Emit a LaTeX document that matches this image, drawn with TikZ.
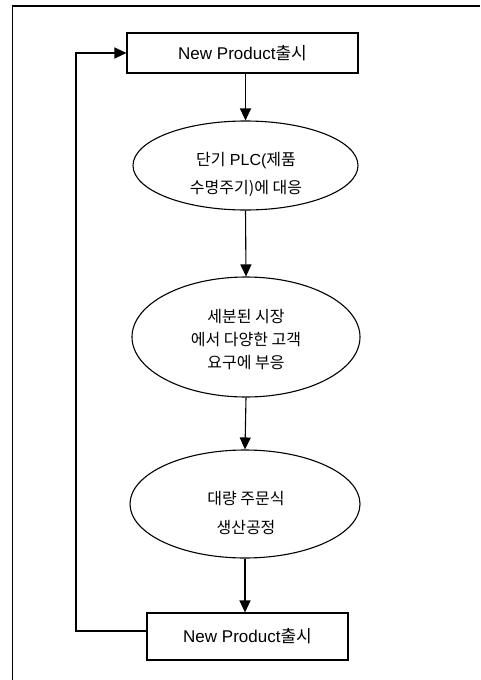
\documentclass[tikz,border=0pt]{standalone}
\usepackage{fontspec}
\setmainfont{Liberation Sans}
\newfontfamily\kr{Noto Sans CJK KR}
\usetikzlibrary{shapes.geometric,arrows.meta}
\begin{document}
\begin{tikzpicture}[x=1pt,y=-1pt,
  line width=1.1pt,
  boxnode/.style={draw,rectangle,inner sep=0pt,font=\fontsize{17}{20}\selectfont},
  ellnode/.style={draw,ellipse,inner sep=0pt},
  txt/.style={align=center,inner sep=0pt,font=\fontsize{16}{23}\selectfont},
  arr/.style={-{Triangle[length=12pt,width=11pt]}}]
\useasboundingbox (0,0) rectangle (480,680);
\draw[line width=1.4pt] (12.5,680) -- (12.5,6) -- (480,6);

\node[boxnode,minimum width=231pt,minimum height=40pt] (top) at (242.5,53) {New Product{\kr 출시}};
\node[ellnode,minimum width=225pt,minimum height=89pt] (e1) at (245.5,165.5) {};
\node[txt] (e1t) at (246,174) {{\kr 단기} PLC({\kr 제품}\\[5pt]{\kr 수명주기)에 대응}};
\node[ellnode,minimum width=228pt,minimum height=120pt] (e2) at (246,337) {};
\node[txt] (e2t) at (246,340) {{\kr 세분된 시장}\\{\kr 에서 다양한 고객}\\{\kr 요구에 부응}};
\node[ellnode,minimum width=230pt,minimum height=108pt] (e3) at (245,504) {};
\node[txt] (e3t) at (246,512.5) {{\kr 대량 주문식}\\[6pt]{\kr 생산공정}};
\node[boxnode,minimum width=201pt,minimum height=47pt] (bot) at (247.5,636.5) {New Product{\kr 출시}};

\draw[arr] (top.south -| e1.north) -- (e1.north);
\draw[arr] (e1.south) -- (e2.north);
\draw[arr] (e2.south) -- (e3.north);
\draw[arr] (e3.south) -- (e3.south |- bot.north);
\draw[arr] ([yshift=5.5pt]bot.west) -| (76,53) -- (top.west);
\end{tikzpicture}
\end{document}
